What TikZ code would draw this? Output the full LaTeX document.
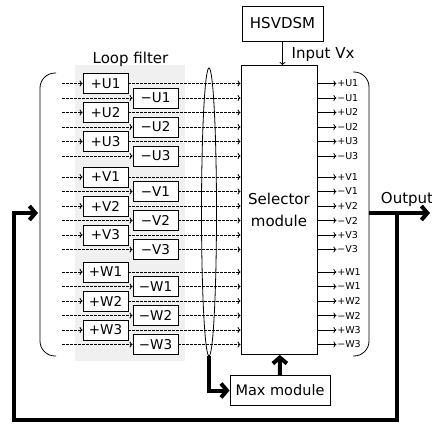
\documentclass[tikz,border=0pt]{standalone}
\usepackage{fontspec}
\setmainfont{DejaVu Sans}
\usetikzlibrary{arrows.meta}

\begin{document}
\begin{tikzpicture}[x=1pt,y=-1pt,line width=0.8pt,
    box/.style={draw,fill=white,inner sep=0pt,font=\fontsize{15}{22}\selectfont},
    lfbox/.style={box,minimum width=45pt,minimum height=20pt,font=\fontsize{13.5}{15}\selectfont},
    outlbl/.style={inner sep=0.5pt,font=\fontsize{9.5}{10}\selectfont},
    dotarr/.style={dash pattern=on 2.5pt off 1.5pt,-{To[length=3pt,width=6pt]}},
    outarr/.style={-{To[length=3pt,width=6pt]}},
    fbarr/.style={line width=4pt,miter limit=10,-{Straight Barb[length=6pt,width=14pt]}}]
      \useasboundingbox (0,0) rectangle (432,426);
      % loop filter background
      \fill[gray!12] (75,65) rectangle (185,361);
      \path (130.5,59) node[font=\fontsize{15}{17}\selectfont] (lftitle) {Loop filter};
      \node[box,minimum width=81pt,minimum height=35pt] (hsv) at (282.5,23.5) {HSVDSM};
      \node[box,minimum width=76pt,minimum height=289pt,align=center] (sel) at (279,210) {Selector\\module};
      \node[box,minimum width=100pt,minimum height=30pt,font=\fontsize{14.5}{16}\selectfont] (max) at (280,390.5) {Max module};
      \draw[outarr] (hsv) -- (hsv |- sel.north);
      \path (288,55) node[anchor=west,font=\fontsize{15}{17}\selectfont] (inp) {Input Vx};
      % filters and selector outputs
      \foreach \g/\s in {U/83.5,V/177,W/272}{
        \foreach \i in {1,2,3}{
          \pgfmathsetmacro{\yp}{\s+(\i-1)*29}
          \pgfmathsetmacro{\ym}{\yp+14.5}
          \node[lfbox] (p\g\i) at (105.5,\yp) {+\g\i};
          \node[lfbox] (m\g\i) at (155.5,\ym) {−\g\i};
          \coordinate (ip\g\i) at (62,\yp);
          \coordinate (im\g\i) at (62,\ym);
          \draw[dotarr] (ip\g\i) -- (p\g\i);
          \draw[dotarr] (im\g\i) -- (m\g\i);
          \draw[dotarr] (p\g\i) -- (sel.west |- p\g\i);
          \draw[dotarr] (m\g\i) -- (sel.west |- m\g\i);
          \draw[outarr] (sel.east |- p\g\i) -- ++(19,0) node[right,outlbl] (op\g\i) {+\g\i};
          \draw[outarr] (sel.east |- m\g\i) -- ++(19,0) node[right,outlbl] (om\g\i) {−\g\i};
        }
      }
      % brackets
      \draw[rounded corners=15pt] (56,73) -- (40,73) -- (40,356) -- (56,356);
      \draw[rounded corners=15pt] (353,72) -- (369,72) -- (369,356) -- (353,356);
      % ellipse and max module
      \draw (209,212) ellipse (7.5 and 144);
      \coordinate (ellb) at (209,356);
      \draw[fbarr] (ellb) |- (max);
      \draw[fbarr] (max) -- (sel);
      % output and feedback
      \coordinate (obr) at (369,213);
      \coordinate (oend) at (430,213);
      \draw[fbarr] (obr) -- (oend);
      \path (407,199) node[font=\fontsize{15}{17}\selectfont] (outl) {Output};
      \coordinate (fbtop) at (397,213);
      \coordinate (fbin) at (38,213);
      \draw[fbarr] (fbtop) |- (14,420) |- (fbin);
    \end{tikzpicture}
\end{document}
